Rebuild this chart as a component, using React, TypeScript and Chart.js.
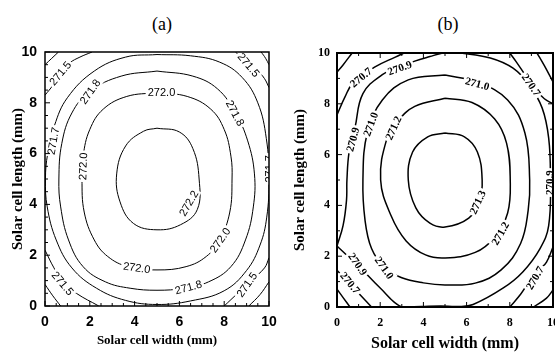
import React, { useEffect, useRef } from "react";
import { Chart, registerables } from "chart.js";

Chart.register(...registerables);

type Pt = [number, number];
type Lbl = [string, number, number, number];

// ---------- shared axis data ----------
const tickValues = [0, 2, 4, 6, 8, 10];
const aTickMarks = [0, 0.5, 1, 1.5, 2, 2.5, 3, 3.5, 4, 4.5, 5, 5.5, 6, 6.5, 7, 7.5, 8, 8.5, 9, 9.5, 10];
const bTickMarks = [0, 1, 2, 3, 4, 5, 6, 7, 8, 9, 10];
const xTitle = "Solar cell width (mm)";
const yTitle = "Solar cell length (mm)";

// ---------- panel (a) contour lines [width, length] ----------
const a2722: Pt[] = [[5, 7], [6, 6.85], [6.6, 6.2], [6.88, 5], [6.8, 3.8], [6.05, 3.2], [5, 3], [3.95, 3.25], [3.35, 4.1], [3.2, 5.2], [3.6, 6.3], [4.4, 6.88], [5, 7]];
const a2720: Pt[] = [[5, 8.4], [6.35, 8.25], [7.4, 7.75], [8.0, 6.95], [8.3, 5.9], [8.35, 5], [8.25, 3.7], [7.8, 2.6], [7.2, 1.95], [6.3, 1.55], [5, 1.42], [3.7, 1.55], [2.8, 1.95], [2.2, 2.6], [1.75, 3.7], [1.65, 5], [1.7, 5.9], [2.0, 6.95], [2.6, 7.75], [3.65, 8.25], [5, 8.4]];
const a2718: Pt[] = [[5, 9.25], [6.6, 9.05], [7.7, 8.55], [8.5, 7.6], [9.05, 6.5], [9.35, 5.2], [9.3, 3.9], [8.95, 2.6], [8.3, 1.55], [7.3, 0.95], [6.2, 0.7], [5, 0.62], [3.8, 0.7], [2.7, 0.95], [1.7, 1.55], [1.05, 2.6], [0.7, 3.9], [0.62, 5], [0.75, 6.4], [1.2, 7.6], [2.0, 8.45], [3.4, 9.05], [5, 9.25]];
const a2717: Pt[] = [[5, 9.9], [6.5, 9.85], [7.8, 9.6], [8.8, 9.0], [9.5, 8.0], [9.88, 6.6], [10, 5], [9.9, 3.5], [9.6, 2.4], [9.0, 1.4], [8.0, 0.6], [6.5, 0.2], [5, 0.06], [3.6, 0.22], [2.3, 0.7], [1.2, 1.5], [0.5, 2.6], [0.1, 3.9], [0.02, 5], [0.12, 6.0], [0.42, 7.1], [1.0, 8.2], [2.2, 9.25], [3.6, 9.8], [5, 9.9]];
const a2715TL: Pt[] = [[0, 8.3], [0.36, 8.7], [0.67, 9.17], [1.1, 9.57], [1.56, 9.8], [2.1, 10]];
const a2715TR: Pt[] = [[8.5, 10], [8.9, 9.7], [9.4, 9.37], [9.8, 8.95], [10, 8.6]];
const a2715BL: Pt[] = [[0, 2.2], [0.4, 1.5], [0.8, 0.95], [1.4, 0.5], [2.4, 0]];
const a2715BR: Pt[] = [[8.0, 0], [8.6, 0.5], [9.2, 1.0], [9.8, 1.5], [10, 1.9]];
const a2713TL: Pt[] = [[0, 9.5], [0.3, 9.75], [0.6, 10]];
const a2713TR: Pt[] = [[9.65, 10], [9.85, 9.75], [10, 9.5]];
const a2713BL: Pt[] = [[0, 0.85], [0.35, 0.4], [0.7, 0]];
const a2713BR: Pt[] = [[9.1, 0], [9.6, 0.45], [10, 0.95]];

const aLabels: Lbl[] = [
  ["271.5", 0.67, 9.17, -50],
  ["271.8", 2.0, 8.45, -55],
  ["271.7", 0.35, 6.5, -80],
  ["272.0", 1.68, 5.5, -88],
  ["272.0", 5.2, 8.42, 0],
  ["271.5", 9.1, 9.5, 50],
  ["271.8", 8.5, 7.6, 62],
  ["271.7", 9.98, 5.4, -90],
  ["272.2", 6.4, 4.05, -60],
  ["272.0", 7.8, 2.6, -55],
  ["272.0", 4.1, 1.52, 8],
  ["271.8", 6.4, 0.75, -15],
  ["271.5", 9.0, 0.85, -55],
  ["271.5", 0.8, 0.9, 50],
];

// ---------- panel (b) contour lines ----------
const b2713: Pt[] = [[5, 6.85], [5.9, 6.7], [6.5, 6.1], [6.72, 5], [6.6, 4.2], [6.1, 3.5], [5, 3.15], [4.3, 3.3], [3.65, 3.9], [3.3, 5], [3.5, 6.1], [4.2, 6.7], [5, 6.85]];
const b2712: Pt[] = [[5, 8.22], [6.25, 8.05], [7.3, 7.4], [7.85, 6.45], [8.02, 5], [7.9, 3.7], [7.3, 2.75], [6.4, 2.15], [5, 1.93], [4.1, 2.05], [3.2, 2.6], [2.5, 3.6], [2.02, 5], [2.3, 6.6], [2.8, 7.3], [3.6, 7.9], [5, 8.22]];
const b2710: Pt[] = [[5, 9.13], [6.5, 8.85], [7.9, 8.15], [8.7, 6.85], [8.92, 5], [8.85, 3.8], [8.5, 2.5], [7.6, 1.46], [6.4, 0.94], [5, 0.87], [4.0, 0.95], [3.0, 1.15], [2.2, 1.55], [1.6, 2.3], [1.3, 3.4], [1.2, 5], [1.4, 6.85], [2.1, 8.15], [3.3, 8.94], [5, 9.13]];
const b2709: Pt[] = [[0, 2.4], [0.28, 3.2], [0.44, 4.2], [0.46, 5], [0.56, 6.1], [0.83, 7.05], [1.2, 8.4], [2.1, 9.15], [2.9, 9.45], [3.6, 9.68], [4.3, 9.86], [4.9, 10], [5.3, 10.03], [5.7, 10], [7.1, 9.8], [8.15, 9.4], [8.9, 8.74], [9.5, 7.83], [9.8, 6.65], [9.88, 5.1], [9.8, 3.2], [9.4, 2.3], [8.6, 1.38], [7.7, 0.75], [6.3, 0.1], [5.6, 0.02], [4.8, 0.04], [3.9, 0.02], [3.0, 0], [2.0, 0.75], [1.0, 1.62], [0.5, 2.0], [0, 2.4]];
const b2707TL: Pt[] = [[0, 7.56], [0.37, 8.27], [0.74, 8.82], [1.76, 9.45], [2.7, 9.84], [3.1, 10]];
const b2707TR: Pt[] = [[8.0, 10], [8.3, 9.65], [8.7, 9.15], [9.2, 8.55], [9.6, 8.2], [10, 8.0]];
const b2707BL: Pt[] = [[0, 1.45], [0.6, 0.9], [1.1, 0.45], [1.6, 0]];
const b2707BR: Pt[] = [[8.0, 0], [8.5, 0.5], [8.9, 1.0], [9.4, 1.5], [9.7, 1.77], [10, 2.36]];
const b2705TL: Pt[] = [[0, 9.25], [0.28, 9.53], [0.7, 10]];
const b2705TR: Pt[] = [[9.26, 10], [9.6, 9.5], [10, 8.86]];
const b2705BL: Pt[] = [[0, 0.7], [0.3, 0.35], [0.6, 0]];
const b2705BR: Pt[] = [[9.1, 0], [9.7, 0.35], [10, 0.67]];

const bLabels: Lbl[] = [
  ["270.7", 1.1, 9.05, -40],
  ["270.9", 2.9, 9.42, -20],
  ["271.0", 6.5, 8.8, 15],
  ["270.7", 9.0, 8.75, 55],
  ["270.9", 0.72, 6.6, -75],
  ["271.0", 1.55, 7.2, -70],
  ["271.2", 2.6, 7.05, -65],
  ["270.9", 9.8, 4.9, -90],
  ["271.3", 6.5, 4.13, -65],
  ["271.2", 7.55, 2.9, -60],
  ["270.9", 0.97, 1.7, 55],
  ["271.0", 2.2, 1.55, 55],
  ["270.7", 0.62, 0.95, 50],
  ["270.7", 9.15, 1.15, -60],
];

const aContours: Pt[][] = [a2722, a2720, a2718, a2717, a2715TL, a2715TR, a2715BL, a2715BR, a2713TL, a2713TR, a2713BL, a2713BR];
const bContours: Pt[][] = [b2713, b2712, b2710, b2709, b2707TL, b2707TR, b2707BL, b2707BR, b2705TL, b2705TR, b2705BL, b2705BR];

interface PanelSpec {
  left: number;
  width: number;
  pad: { top: number; right: number };
  yAxisWidth: number;
  xAxisHeight: number;
  contours: Pt[][];
  labels: Lbl[];
  lineWidth: number;
  frameWidth: number;
  tickFont: any;
  tickPadX: number;
  tickPadY: number;
  xTitleFont: any;
  xTitlePad: number;
  yTitleFont: any;
  yTitlePad: number;
  labelFont: string;
  labelH: number;
  tickMarks: number[];
  sides: string[];
}

const specA: PanelSpec = {
  left: 0,
  width: 285,
  pad: { top: 52, right: 16 },
  yAxisWidth: 45,
  xAxisHeight: 46,
  contours: aContours,
  labels: aLabels,
  lineWidth: 1,
  frameWidth: 1.5,
  tickFont: { family: "'Liberation Sans', Arial, sans-serif", weight: "bold", size: 14 },
  tickPadX: 8,
  tickPadY: 8,
  xTitleFont: { family: "'Liberation Serif', serif", weight: "bold", size: 13 },
  xTitlePad: 4,
  yTitleFont: { family: "'Liberation Serif', serif", weight: "bold", size: 15 },
  yTitlePad: 9,
  labelFont: "11px 'Liberation Sans', Arial, sans-serif",
  labelH: 12,
  tickMarks: aTickMarks,
  sides: ["bottom", "left"],
};

const specB: PanelSpec = {
  left: 280,
  width: 275,
  pad: { top: 53, right: 2 },
  yAxisWidth: 57,
  xAxisHeight: 45,
  contours: bContours,
  labels: bLabels,
  lineWidth: 1.5,
  frameWidth: 2,
  tickFont: { family: "'Liberation Serif', serif", weight: "bold", size: 12 },
  tickPadX: 9,
  tickPadY: 7,
  xTitleFont: { family: "'Liberation Serif', serif", weight: "bold", size: 16, lineHeight: 1.0 },
  xTitlePad: 0,
  yTitleFont: { family: "'Liberation Serif', serif", weight: "bold", size: 15 },
  yTitlePad: 11,
  labelFont: "bold 11px 'Liberation Serif', serif",
  labelH: 12,
  tickMarks: bTickMarks,
  sides: ["bottom", "left", "top", "right"],
};

function overlayPlugin(spec: PanelSpec) {
  return {
    id: "overlay",
    afterDatasetsDraw(chart: any) {
      const { ctx, chartArea: ca, scales } = chart;
      const xs = scales.x;
      const ys = scales.y;
      // contour labels
      ctx.save();
      ctx.beginPath();
      ctx.rect(ca.left, ca.top, ca.right - ca.left, ca.bottom - ca.top);
      ctx.clip();
      ctx.font = spec.labelFont;
      ctx.textAlign = "center";
      ctx.textBaseline = "middle";
      for (const [t, vx, vy, ang] of spec.labels) {
        const px = xs.getPixelForValue(vx);
        const py = ys.getPixelForValue(vy);
        ctx.save();
        ctx.translate(px, py);
        ctx.rotate((ang * Math.PI) / 180);
        const w = ctx.measureText(t).width;
        ctx.fillStyle = "#fff";
        ctx.fillRect(-w / 2 - 2, -spec.labelH / 2, w + 4, spec.labelH);
        ctx.fillStyle = "#000";
        ctx.fillText(t, 0, 1);
        ctx.restore();
      }
      ctx.restore();
      // frame
      ctx.save();
      ctx.strokeStyle = "#000";
      ctx.lineWidth = spec.frameWidth;
      ctx.strokeRect(ca.left, ca.top, ca.right - ca.left, ca.bottom - ca.top);
      // inward tick marks
      ctx.lineWidth = 1;
      ctx.beginPath();
      for (const v of spec.tickMarks) {
        const major = tickValues.includes(v);
        const len = major ? 5 : 3;
        const px = xs.getPixelForValue(v);
        const py = ys.getPixelForValue(v);
        if (spec.sides.includes("bottom")) {
          ctx.moveTo(px, ca.bottom);
          ctx.lineTo(px, ca.bottom - len);
        }
        if (spec.sides.includes("top")) {
          ctx.moveTo(px, ca.top);
          ctx.lineTo(px, ca.top + len);
        }
        if (spec.sides.includes("left")) {
          ctx.moveTo(ca.left, py);
          ctx.lineTo(ca.left + len, py);
        }
        if (spec.sides.includes("right")) {
          ctx.moveTo(ca.right, py);
          ctx.lineTo(ca.right - len, py);
        }
      }
      ctx.stroke();
      ctx.restore();
    },
  };
}

function Panel({ spec }: { spec: PanelSpec }) {
  const ref = useRef<HTMLCanvasElement>(null);
  useEffect(() => {
    if (!ref.current) return;
    const chart = new Chart(ref.current, {
      type: "scatter",
      data: {
        datasets: spec.contours.map((c) => ({
          data: c.map(([x, y]) => ({ x, y })),
          showLine: true,
          borderColor: "#000",
          borderWidth: spec.lineWidth,
          pointRadius: 0,
          tension: 0.4,
          fill: false,
          clip: 0,
        })),
      },
      options: {
        responsive: false,
        animation: false,
        devicePixelRatio: 1,
        layout: { padding: { top: spec.pad.top, right: spec.pad.right, left: 0, bottom: 0 } },
        plugins: { legend: { display: false }, tooltip: { enabled: false }, title: { display: false } },
        events: [],
        scales: {
          x: {
            type: "linear",
            position: "bottom",
            min: 0,
            max: 10,
            grid: { display: false, drawTicks: false },
            border: { display: false },
            afterBuildTicks: (s: any) => {
              s.ticks = tickValues.map((v) => ({ value: v }));
            },
            ticks: { padding: spec.tickPadX, font: spec.tickFont, color: "#000", autoSkip: false, maxRotation: 0 },
            title: { display: true, text: xTitle, color: "#000", font: spec.xTitleFont, padding: { top: 0, bottom: spec.xTitlePad } },
            afterFit: (s: any) => {
              s.height = spec.xAxisHeight;
              s.paddingLeft = 0;
              s.paddingRight = 0;
            },
          },
          y: {
            type: "linear",
            position: "left",
            min: 0,
            max: 10,
            grid: { display: false, drawTicks: false },
            border: { display: false },
            afterBuildTicks: (s: any) => {
              s.ticks = tickValues.map((v) => ({ value: v }));
            },
            ticks: { padding: spec.tickPadY, font: spec.tickFont, color: "#000", autoSkip: false },
            title: { display: true, text: yTitle, color: "#000", font: spec.yTitleFont, padding: { top: spec.yTitlePad, bottom: 0 } },
            afterFit: (s: any) => {
              s.width = spec.yAxisWidth;
              s.paddingTop = 0;
              s.paddingBottom = 0;
            },
          },
        },
      } as any,
      plugins: [overlayPlugin(spec)],
    });
    return () => chart.destroy();
  }, [spec]);
  return (
    <canvas
      ref={ref}
      width={spec.width}
      height={352}
      style={{ position: "absolute", left: spec.left, top: 0, width: spec.width, height: 352 }}
    />
  );
}

const titleStyle: React.CSSProperties = {
  position: "absolute",
  top: 12,
  width: 40,
  textAlign: "center",
  font: "18px 'Liberation Serif', serif",
  color: "#000",
  lineHeight: "24px",
};

export default function App() {
  return (
    <div style={{ position: "absolute", left: 0, top: 0, width: 555, height: 352, background: "#fff", overflow: "hidden" }}>
      <div style={{ ...titleStyle, left: 142 }}>(a)</div>
      <div style={{ ...titleStyle, left: 428 }}>(b)</div>
      <Panel spec={specA} />
      <Panel spec={specB} />
    </div>
  );
}
